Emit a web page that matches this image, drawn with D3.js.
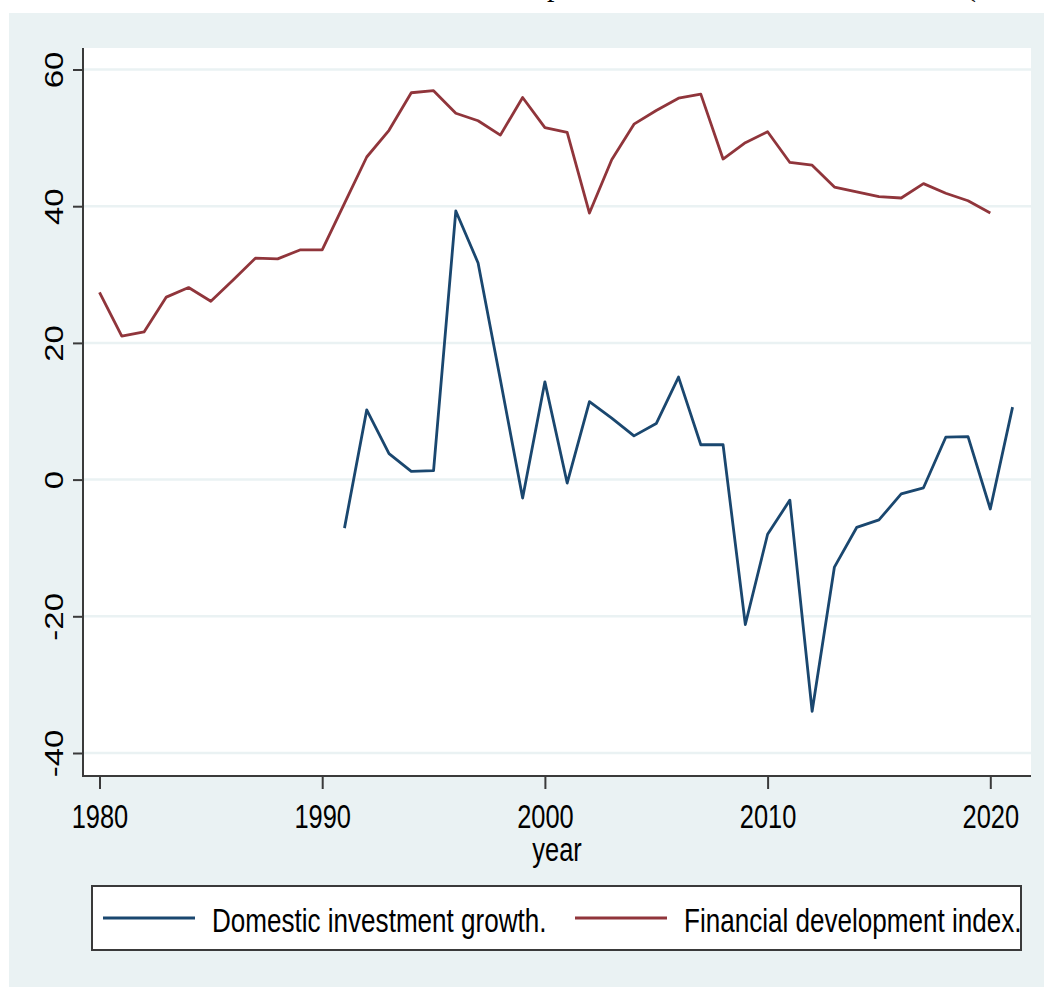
<!DOCTYPE html>
<html lang="en">
<head>
    <meta charset="UTF-8">
    <title>Domestic investment growth and financial development</title>
    <script src="https://d3js.org/d3.v7.min.js"></script>
    <style>
        body { margin: 0; background-color: #fff; }
        svg { display: block; }
        text { font-family: "Liberation Sans", Arial, sans-serif; fill: #000; }
    </style>
</head>
<body>
    <svg></svg>
    <script>
        // Financial development index, 1980-2020
        const fdYears = [1980, 1981, 1982, 1983, 1984, 1985, 1986, 1987, 1988, 1989,
            1990, 1991, 1992, 1993, 1994, 1995, 1996, 1997, 1998, 1999,
            2000, 2001, 2002, 2003, 2004, 2005, 2006, 2007, 2008, 2009,
            2010, 2011, 2012, 2013, 2014, 2015, 2016, 2017, 2018, 2019, 2020];
        const fdValues = [27.4, 21.0, 21.6, 26.7, 28.1, 26.1, 29.2, 32.4, 32.3, 33.6,
            33.6, 40.4, 47.2, 51.1, 56.6, 56.9, 53.6, 52.5, 50.4, 55.9,
            51.5, 50.8, 39.0, 46.8, 52.0, 54.0, 55.8, 56.4, 46.9, 49.3,
            50.9, 46.4, 46.0, 42.8, 42.1, 41.4, 41.2, 43.3, 41.9, 40.8, 39.0];

        // Domestic investment growth, 1991-2021
        const digYears = [1991, 1992, 1993, 1994, 1995, 1996, 1997, 1998, 1999, 2000,
            2001, 2002, 2003, 2004, 2005, 2006, 2007, 2008, 2009, 2010,
            2011, 2012, 2013, 2014, 2015, 2016, 2017, 2018, 2019, 2020, 2021];
        const digValues = [-7.1, 10.2, 3.8, 1.2, 1.3, 39.3, 31.7, 14.6, -2.7, 14.3,
            -0.5, 11.4, 9.0, 6.4, 8.2, 15.0, 5.1, 5.1, -21.2, -8.0,
            -3.0, -33.9, -12.8, -7.0, -5.9, -2.1, -1.2, 6.2, 6.3, -4.3, 10.6];

        const xTicks = [1980, 1990, 2000, 2010, 2020];
        const yTicks = [-40, -20, 0, 20, 40, 60];
        const seriesNames = ["Domestic investment growth.", "Financial development index."];

        const width = 1044, height = 988;
        const bg = "#eaf2f3", blue = "#1a476f", red = "#90353b", axisColor = "#3a3a3a";
        const squeeze = 0.77; // glyphs in the picture are narrowed horizontally

        const svg = d3.select("svg").attr("width", width).attr("height", height);

        // plot region edges
        const plotLeft = 83, plotRight = 1031, plotTop = 48, plotBottom = 776;

        const x = d3.scaleLinear().domain([1980, 2020]).range([99.5, 990.3]);
        const y = d3.scaleLinear().domain([-40, 60]).range([753, 69.5]);

        // clipped caption fragments above the grey panel
        svg.append("text").attr("x", 547).attr("y", -4)
            .style("font-family", "'Liberation Serif', serif").style("font-size", "30px").text("p");
        svg.append("text").attr("x", 966).attr("y", -4)
            .style("font-family", "'Liberation Serif', serif").style("font-size", "30px").text("(");
        svg.append("rect").attr("x", 9).attr("y", 13).attr("width", width - 9).attr("height", height - 14)
            .attr("fill", bg);
        svg.append("rect").attr("x", plotLeft).attr("y", plotTop)
            .attr("width", plotRight - plotLeft).attr("height", plotBottom - plotTop)
            .attr("fill", "#fff");

        // gridlines
        svg.append("g").selectAll("line")
            .data(yTicks)
            .enter().append("line")
            .attr("x1", plotLeft).attr("x2", plotRight)
            .attr("y1", d => y(d)).attr("y2", d => y(d))
            .attr("stroke", bg).attr("stroke-width", 2.5);

        // axes
        const yAxis = svg.append("g")
            .attr("transform", `translate(${plotLeft},0)`)
            .call(d3.axisLeft(y).tickValues(yTicks).tickFormat(d => String(d)).tickSize(10).tickSizeOuter(0));
        yAxis.select(".domain").remove();
        yAxis.selectAll("line").attr("stroke", axisColor).attr("stroke-width", 2);
        yAxis.selectAll("text")
            .attr("x", null).attr("dy", null)
            .attr("transform", `translate(-20,0) scale(${squeeze},1) rotate(-90)`)
            .attr("text-anchor", "middle")
            .style("font-size", "33px").attr("fill", "#000");

        const xAxis = svg.append("g")
            .attr("transform", `translate(0,${plotBottom})`)
            .call(d3.axisBottom(x).tickValues(xTicks).tickFormat(d3.format("d")).tickSize(13).tickSizeOuter(0));
        xAxis.select(".domain").remove();
        xAxis.selectAll("line").attr("stroke", axisColor).attr("stroke-width", 2);
        xAxis.selectAll("text")
            .attr("y", null).attr("dy", null)
            .attr("transform", `translate(0,52) scale(${squeeze},1)`)
            .style("font-size", "33px").attr("fill", "#000");

        svg.append("line").attr("x1", plotLeft).attr("x2", plotLeft).attr("y1", plotTop).attr("y2", plotBottom + 1)
            .attr("stroke", axisColor).attr("stroke-width", 2);
        svg.append("line").attr("x1", plotLeft - 1).attr("x2", plotRight).attr("y1", plotBottom).attr("y2", plotBottom)
            .attr("stroke", axisColor).attr("stroke-width", 2);

        svg.append("text")
            .attr("transform", `translate(${(plotLeft + plotRight) / 2},861) scale(${squeeze},1)`)
            .attr("text-anchor", "middle")
            .style("font-size", "33px")
            .text("year");

        // series
        const line = d3.line().x(d => x(d[0])).y(d => y(d[1]));
        const fdData = fdYears.map((yr, i) => [yr, fdValues[i]]);
        const digData = digYears.map((yr, i) => [yr, digValues[i]]);

        svg.append("path").datum(digData)
            .attr("d", line)
            .attr("fill", "none").attr("stroke", blue).attr("stroke-width", 2.8)
            .attr("stroke-linejoin", "round");
        svg.append("path").datum(fdData)
            .attr("d", line)
            .attr("fill", "none").attr("stroke", red).attr("stroke-width", 2.8)
            .attr("stroke-linejoin", "round");

        // legend
        const legend = svg.append("g");
        legend.append("rect")
            .attr("x", 92).attr("y", 886).attr("width", 929).attr("height", 64)
            .attr("fill", "#fff").attr("stroke", axisColor).attr("stroke-width", 2);

        const legendItems = [
            { name: seriesNames[0], color: blue, x0: 103 },
            { name: seriesNames[1], color: red, x0: 575 }
        ];
        legend.selectAll(".key")
            .data(legendItems)
            .enter().append("line")
            .attr("x1", d => d.x0).attr("x2", d => d.x0 + 92)
            .attr("y1", 918).attr("y2", 918)
            .attr("stroke", d => d.color).attr("stroke-width", 3);
        legend.selectAll(".label")
            .data(legendItems)
            .enter().append("text")
            .attr("transform", d => `translate(${d.x0 + 109},932) scale(0.79,1)`)
            .style("font-size", "33px")
            .text(d => d.name);
    </script>
</body>
</html>
